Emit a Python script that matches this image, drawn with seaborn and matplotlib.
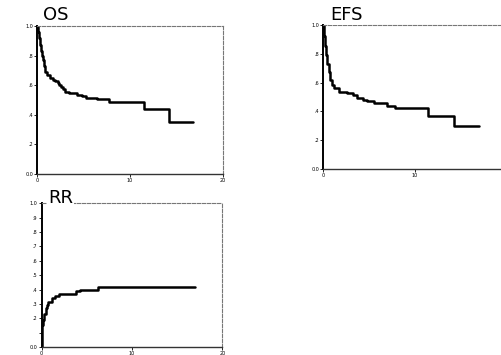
import matplotlib
matplotlib.use("Agg")
import matplotlib.pyplot as plt
import numpy as np
import pandas as pd
import seaborn as sns

# step curves (time in years, step-post values)
os_time = [0, 0.1, 0.2, 0.3, 0.4, 0.5, 0.6, 0.75, 0.9, 1.1, 1.4, 1.7, 1.9, 2.2, 2.4,
           2.6, 2.8, 3.0, 3.4, 4.3, 4.8, 5.3, 5.9, 6.4, 7.7, 11.5, 14.2, 16.8]
os_surv = [1.0, 0.96, 0.92, 0.87, 0.83, 0.80, 0.77, 0.73, 0.69, 0.67, 0.645, 0.635,
           0.625, 0.615, 0.60, 0.59, 0.575, 0.555, 0.545, 0.535, 0.525, 0.515, 0.51,
           0.505, 0.485, 0.44, 0.35, 0.35]

efs_time = [0, 0.1, 0.2, 0.3, 0.45, 0.6, 0.75, 0.95, 1.2, 1.7, 2.6, 3.2, 3.7, 4.3,
            4.8, 5.5, 6.0, 7.0, 7.8, 11.4, 14.2, 16.9]
efs_surv = [1.0, 0.92, 0.85, 0.79, 0.73, 0.67, 0.62, 0.58, 0.56, 0.535, 0.525, 0.51,
            0.495, 0.48, 0.47, 0.46, 0.455, 0.44, 0.42, 0.37, 0.295, 0.295]

rr_time = [0, 0.05, 0.1, 0.2, 0.3, 0.45, 0.6, 0.75, 1.1, 1.5, 1.9, 3.8, 4.3, 6.2, 17.0]
rr_cum = [0.0, 0.08, 0.15, 0.19, 0.23, 0.27, 0.29, 0.315, 0.34, 0.355, 0.37, 0.39,
          0.40, 0.418, 0.418]

x_ticks = [0, 10, 20]
x_labels = ["0", "10", "20"]

sns.set_style("white")
fig = plt.figure(figsize=(5.01, 3.55), dpi=100)


def panel(rect, t, v, title, yticks, ylabels, title_xy, xlabels=x_labels):
    ax = fig.add_axes(rect)
    df = pd.DataFrame({"t": t, "v": v})
    sns.lineplot(data=df, x="t", y="v", ax=ax, color="black", lw=1.8,
                 drawstyle="steps-post", estimator=None, sort=False)
    ax.set_xlim(0, 20)
    ax.set_ylim(0, 1.0)
    ax.set_xlabel("")
    ax.set_ylabel("")
    ax.set_xticks(x_ticks)
    ax.set_xticklabels(xlabels)
    ax.set_yticks(yticks)
    ax.set_yticklabels(ylabels)
    ax.tick_params(axis="both", labelsize=3.5, length=2, width=0.6, pad=1,
                   colors="black", left=True, bottom=True)
    ax.spines["left"].set_linewidth(1.4)
    ax.spines["left"].set_color("black")
    ax.spines["bottom"].set_linewidth(1.0)
    ax.spines["bottom"].set_color("#333333")
    ax.spines["bottom"].set_linestyle((0, (6, 1)))
    for s in ("top", "right"):
        ax.spines[s].set_linewidth(0.8)
        ax.spines[s].set_color("#777777")
        ax.spines[s].set_linestyle((0, (3, 1.5)))
    fig.text(title_xy[0], title_xy[1], title, fontsize=13, ha="left", va="bottom",
             family="DejaVu Sans", color="black",
             bbox=dict(facecolor="white", edgecolor="none", pad=0.5))
    return ax


yt = [0, 0.2, 0.4, 0.6, 0.8, 1.0]
yl = ["0.0", ".2", ".4", ".6", ".8", "1.0"]
panel([0.074, 0.51, 0.371, 0.417], os_time, os_surv, "OS", yt, yl,
      (43 / 501, 1 - 24 / 355))
panel([0.645, 0.524, 0.367, 0.406], efs_time, efs_surv, "EFS", yt, yl,
      (330 / 501, 1 - 24 / 355), xlabels=["0", "10", ""])

rt = [0, 0.1, 0.2, 0.3, 0.4, 0.5, 0.6, 0.7, 0.8, 0.9, 1.0]
rl = ["0.0", "", ".2", ".3", ".4", ".5", ".6", ".7", ".8", ".9", "1.0"]
panel([0.083, 0.0225, 0.361, 0.405], rr_time, rr_cum, "RR", rt, rl,
      (48 / 501, 1 - 207 / 355))

fig.savefig("out.png", dpi=100)
